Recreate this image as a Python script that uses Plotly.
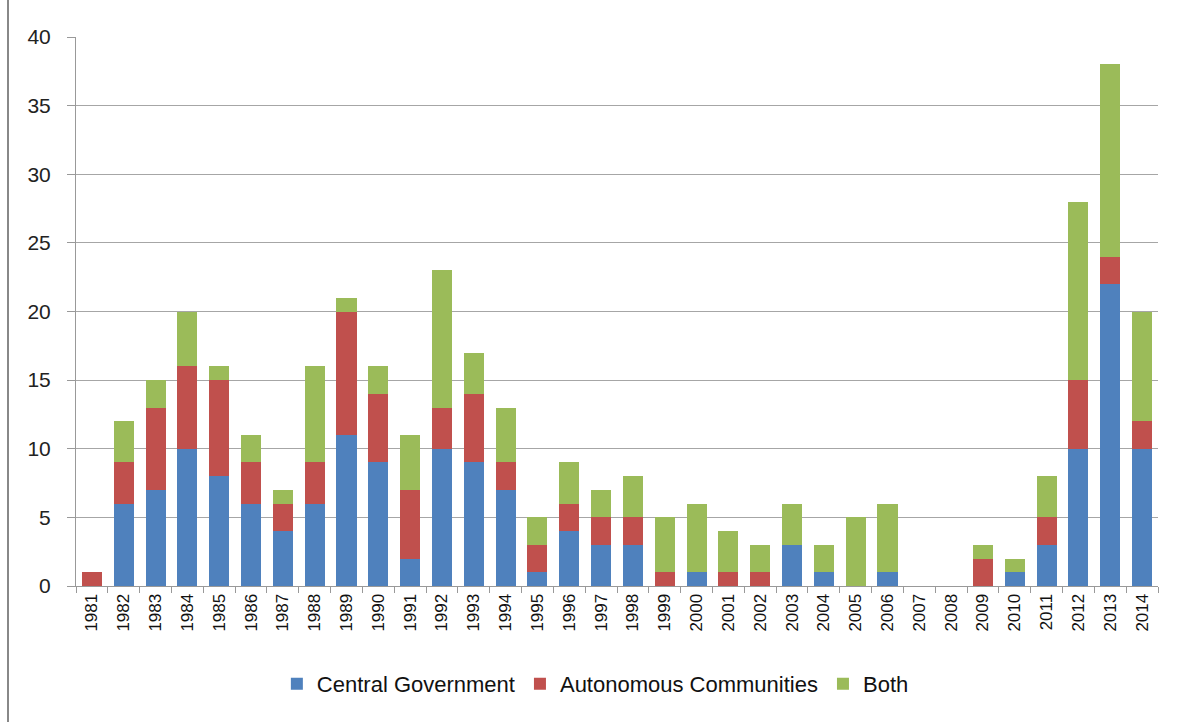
import plotly.graph_objects as go

years = [str(y) for y in range(1981, 2015)]
central = [0, 6, 7, 10, 8, 6, 4, 6, 11, 9, 2, 10, 9, 7, 1, 4, 3, 3, 0, 1, 0, 0, 3, 1, 0, 1, 0, 0, 0, 1, 3, 10, 22, 10]
autonomous = [1, 3, 6, 6, 7, 3, 2, 3, 9, 5, 5, 3, 5, 2, 2, 2, 2, 2, 1, 0, 1, 1, 0, 0, 0, 0, 0, 0, 2, 0, 2, 5, 2, 2]
both = [0, 3, 2, 4, 1, 2, 1, 7, 1, 2, 4, 10, 3, 4, 2, 3, 2, 3, 4, 5, 3, 2, 3, 2, 5, 5, 0, 0, 1, 1, 3, 13, 14, 8]

series = [
    ("Central Government", central, "#4F81BD"),
    ("Autonomous Communities", autonomous, "#C0504D"),
    ("Both", both, "#9BBB59"),
]

fig = go.Figure()
for name, vals, col in series:
    fig.add_trace(go.Bar(x=years, y=vals, name=name, marker=dict(color=col, line=dict(width=0))))

font_main = "Liberation Sans, Arial"

fig.update_layout(
    barmode="stack",
    bargap=0.37,
    width=1186, height=722,
    margin=dict(l=76, r=28, t=37, b=136),
    plot_bgcolor="white", paper_bgcolor="white",
    font=dict(family=font_main, color="#222"),
    legend=dict(orientation="h", x=0.48, xanchor="center", y=-(684 - 586) / 549, yanchor="middle",
                traceorder="normal",
                font=dict(size=22, family=font_main, color="#111")),
    xaxis=dict(type="category", tickangle=-90, tickfont=dict(size=17, family=font_main, color="#111"),
               showline=True, linecolor="#999", linewidth=1,
               ticks="outside", tickson="boundaries", ticklen=6, tickcolor="#999",
               showgrid=False),
    yaxis=dict(range=[0, 40], dtick=5, tickfont=dict(size=21, family=font_main, color="#222"),
               showgrid=True, gridcolor="#A6A6A6", gridwidth=1,
               showline=True, linecolor="#999", linewidth=1,
               ticks="outside", ticklen=8, tickcolor="#999", zeroline=False,
               ticklabelstandoff=12),
    shapes=[dict(type="line", xref="paper", yref="paper", x0=(8 - 76) / 1082, x1=(8 - 76) / 1082,
                 y0=-136 / 549, y1=1 + 37 / 549, line=dict(color="#888", width=2))],
)

fig.write_html("out.html")
